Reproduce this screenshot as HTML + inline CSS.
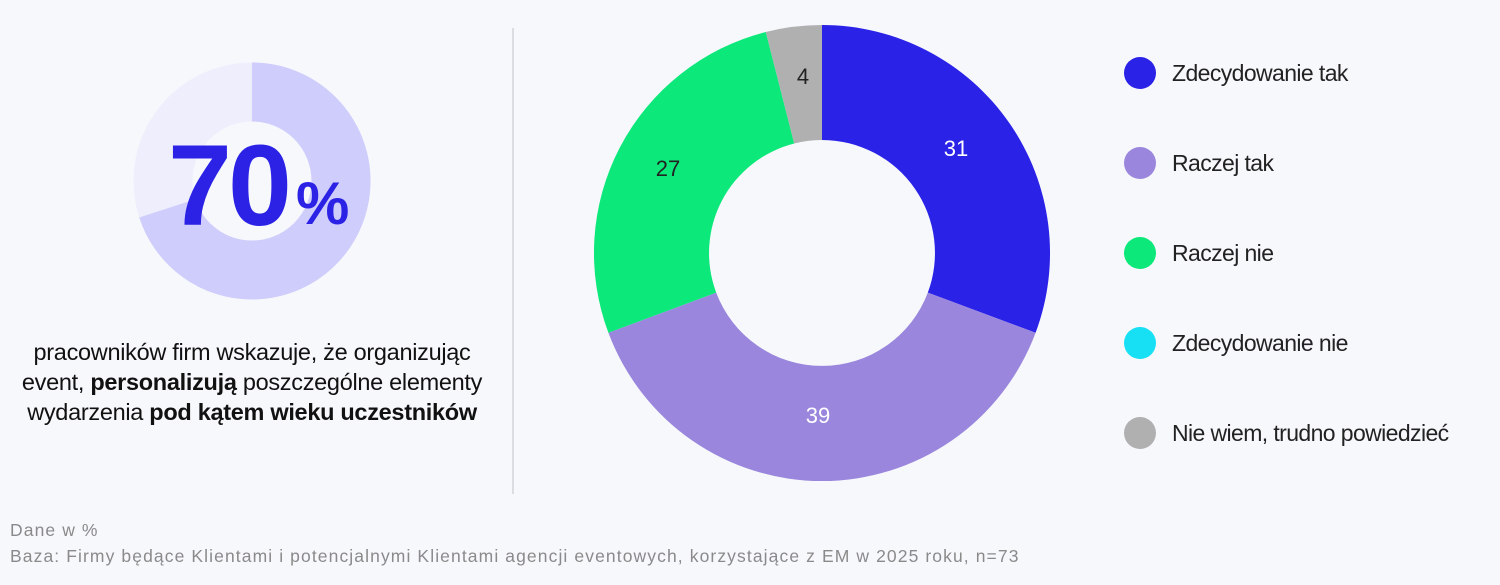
<!DOCTYPE html>
<html><head><meta charset="utf-8"><style>
body{margin:0;width:1500px;height:585px;background:#f7f8fc;overflow:hidden;font-family:"Liberation Sans",sans-serif;}
.desc{position:absolute;left:0;width:504px;top:337px;text-align:center;font-size:23.5px;line-height:30px;color:#111;letter-spacing:-0.3px;}
.foot{position:absolute;left:10px;color:#8a8a8a;font-size:17.5px;letter-spacing:1.1px;}
</style></head><body>
<svg width="1500" height="585" style="position:absolute;left:0;top:0">
<circle cx="252" cy="181" r="89" fill="none" stroke="#efeefc" stroke-width="59"/>
<circle cx="252" cy="181" r="89" fill="none" stroke="#cfcdfb" stroke-width="59" stroke-dasharray="391.4 1000" transform="rotate(-90 252 181)"/>
<text x="168" y="225" font-family="Liberation Sans" font-weight="bold" font-size="115" fill="#2b22e6" letter-spacing="-4">70</text>
<text x="296" y="224" font-family="Liberation Sans" font-weight="bold" font-size="60" fill="#2b22e6">%</text>
<line x1="513" y1="28" x2="513" y2="494" stroke="#dcdde3" stroke-width="2"/>
<path d="M822 25 A228 228 0 0 1 1035.6 332.8 L927.8 292.6 A113 113 0 0 0 822 140Z" fill="#2b22e8"/>
<path d="M1035.6 332.8 A228 228 0 0 1 608.4 332.8 L716.2 292.6 A113 113 0 0 0 927.8 292.6Z" fill="#9a87dd"/>
<path d="M608.4 332.8 A228 228 0 0 1 765.8 32 L794.2 143.5 A113 113 0 0 0 716.2 292.6Z" fill="#0ce87a"/>
<path d="M765.8 32 A228 228 0 0 1 822 25 L822 140 A113 113 0 0 0 794.2 143.5Z" fill="#b0b0b0"/>
<g font-family="Liberation Sans" font-size="22" text-anchor="middle">
<text x="956" y="156" fill="#fff">31</text>
<text x="818" y="423" fill="#fff">39</text>
<text x="668" y="176" fill="#222">27</text>
<text x="803" y="84" fill="#222">4</text>
</g>
<g font-family="Liberation Sans" font-size="23" fill="#222" letter-spacing="-0.6">
<circle cx="1140" cy="73" r="16" fill="#2b22e8"/><text x="1172" y="81">Zdecydowanie tak</text>
<circle cx="1140" cy="163" r="16" fill="#9a87dd"/><text x="1172" y="171">Raczej tak</text>
<circle cx="1140" cy="253" r="16" fill="#0ce87a"/><text x="1172" y="261">Raczej nie</text>
<circle cx="1140" cy="343" r="16" fill="#17e0f5"/><text x="1172" y="351">Zdecydowanie nie</text>
<circle cx="1140" cy="433" r="16" fill="#b0b0b0"/><text x="1172" y="441">Nie wiem, trudno powiedzieć</text>
</g>
</svg>
<div class="desc">pracowników firm wskazuje, że organizując<br>event, <b>personalizują</b> poszczególne elementy<br>wydarzenia <b>pod kątem wieku uczestników</b></div>
<div class="foot" style="top:520px">Dane w %</div>
<div class="foot" style="top:546px">Baza: Firmy będące Klientami i potencjalnymi Klientami agencji eventowych, korzystające z EM w 2025 roku, n=73</div>
</body></html>
